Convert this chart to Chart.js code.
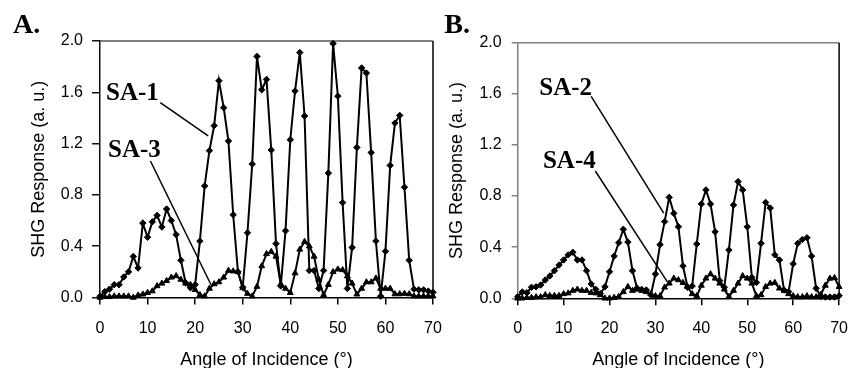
<!DOCTYPE html>
<html><head><meta charset="utf-8">
<script src="https://cdn.jsdelivr.net/npm/chart.js@4.4.0/dist/chart.umd.min.js"></script>
<style>
html,body{margin:0;padding:0;background:#fff;}
#wrap{position:relative;width:862px;height:368px;background:#fff;}
canvas{position:absolute;left:0;top:0;}
</style></head><body>
<div id="wrap"><canvas id="cA" width="862" height="368"></canvas><canvas id="cB" width="862" height="368"></canvas></div>
<script>
// ---- data (angle of incidence, degrees) ----
const angles = [0,1,2,3,4,5,6,7,8,9,10,11,12,13,14,15,16,17,18,19,20,21,22,23,24,25,26,27,28,29,30,31,32,33,34,35,36,37,38,39,40,41,42,43,44,45,46,47,48,49,50,51,52,53,54,55,56,57,58,59,60,61,62,63,64,65,66,67,68,69,70];
// Panel A
const sa1 = [0.01,0.045,0.065,0.10,0.10,0.16,0.20,0.32,0.23,0.58,0.47,0.59,0.64,0.55,0.69,0.60,0.49,0.29,0.115,0.076,0.10,0.44,0.87,1.145,1.34,1.69,1.48,1.22,0.645,0.20,0.08,0.505,1.04,1.88,1.62,1.70,1.15,0.42,0.09,0.52,1.23,1.61,1.91,1.415,0.21,0.21,0.07,0.21,0.97,1.98,1.57,0.74,0.07,0.39,1.17,1.79,1.75,1.13,0.44,0.01,0.36,1.03,1.36,1.42,0.86,0.29,0.065,0.06,0.06,0.05,0.04];
const sa3 = [0.0,0.005,0.005,0.01,0.01,0.01,0.01,0.0,0.017,0.025,0.037,0.05,0.09,0.11,0.13,0.157,0.168,0.14,0.11,0.10,0.06,0.02,0.01,0.07,0.105,0.12,0.157,0.21,0.205,0.20,0.075,0.03,0.01,0.085,0.245,0.34,0.357,0.32,0.105,0.07,0.037,0.19,0.375,0.435,0.40,0.32,0.14,0.02,0.10,0.20,0.22,0.215,0.167,0.11,0.025,0.07,0.12,0.12,0.15,0.07,0.07,0.07,0.027,0.027,0.03,0.027,0.01,0.01,0.01,0.01,0.01];
// Panel B
const sa2 = [0.013,0.05,0.044,0.086,0.09,0.104,0.143,0.175,0.216,0.26,0.30,0.34,0.36,0.30,0.30,0.216,0.112,0.07,0.036,0.09,0.208,0.33,0.435,0.54,0.44,0.215,0.08,0.07,0.065,0.026,0.19,0.42,0.60,0.79,0.665,0.56,0.253,0.086,0.096,0.425,0.738,0.848,0.738,0.52,0.138,0.086,0.378,0.73,0.913,0.848,0.56,0.163,0.124,0.43,0.75,0.706,0.34,0.30,0.065,0.052,0.27,0.43,0.46,0.474,0.33,0.078,0.013,0.01,0.01,0.01,0.02];
const sa4 = [0.0,0.0,0.005,0.005,0.01,0.01,0.026,0.02,0.02,0.02,0.034,0.04,0.06,0.07,0.06,0.06,0.044,0.04,0.026,0.0,0.0,0.005,0.013,0.05,0.09,0.06,0.07,0.06,0.05,0.034,0.018,0.018,0.086,0.117,0.156,0.143,0.122,0.09,0.034,0.018,0.10,0.156,0.19,0.156,0.117,0.07,0.013,0.06,0.117,0.175,0.156,0.117,0.018,0.026,0.09,0.117,0.122,0.078,0.06,0.034,0.018,0.01,0.01,0.018,0.01,0.01,0.03,0.10,0.155,0.16,0.09];
const xTickValues = [0,10,20,30,40,50,60,70];
const yTickValues = [0.0,0.4,0.8,1.2,1.6,2.0];
const xTitle = 'Angle of Incidence (\u00B0)';
const yTitle = 'SHG Response (a. u.)';

// ---- annotation layout (data units) ----
const panels = [
  {canvas:'cA', letter:'A.', letterAt:[-18.3,2.062],
   area:{left:100,right:433,top:41,bottom:297.5}, padL:0, yTitlePad:28.2, tickLenY:8, tickPadY:9,
   leftColor:'#111', topColor:'#555',
   series:[{name:'SA-1', data:sa1, style:'rectRot', r:3.2},{name:'SA-3', data:sa3, style:'triangle', r:3.4}],
   notes:[{text:'SA-1', at:[1.26,1.54], from:[12.67,1.52], to:[22.74,1.26]},
          {text:'SA-3', at:[1.7,1.095], from:[10.6,1.064], to:[23.36,0.0975]}]},
  {canvas:'cB', letter:'B.', letterAt:[-16.0,2.076],
   area:{left:517.7,right:850.7,top:42.7,bottom:298.3}, padL:430, yTitlePad:16.2, tickLenY:6, tickPadY:10,
   leftColor:'#808080', topColor:'#808080',
   series:[{name:'SA-2', data:sa2, style:'rectRot', r:3.2},{name:'SA-4', data:sa4, style:'triangle', r:3.4}],
   notes:[{text:'SA-2', at:[4.7,1.59], from:[16.0,1.58], to:[31.8,0.667]},
          {text:'SA-4', at:[5.5,1.02], from:[16.9,0.996], to:[32.6,0.128]}]}
];

const W = 862, H = 368;
const sans = "'Liberation Sans', Arial, sans-serif";
const serif = "'Liberation Serif', 'Times New Roman', serif";

const framePlugin = {
  id:'frame',
  beforeDatasetsDraw(chart, args, o){
    const {ctx, chartArea:a} = chart;
    ctx.save();
    ctx.lineWidth = 1.5;
    ctx.strokeStyle = o.topColor;
    ctx.beginPath(); ctx.moveTo(a.left, a.top); ctx.lineTo(a.right, a.top); ctx.stroke();
    ctx.strokeStyle = '#000';
    ctx.beginPath(); ctx.moveTo(a.right, a.top); ctx.lineTo(a.right, a.bottom); ctx.stroke();
    ctx.restore();
  }
};
const notePlugin = {
  id:'notes',
  afterDatasetsDraw(chart, args, o){
    const {ctx} = chart, xs = chart.scales.x, ys = chart.scales.y;
    const px = v => xs.getPixelForValue(v), py = v => ys.getPixelForValue(v);
    ctx.save();
    ctx.fillStyle = '#000'; ctx.strokeStyle = '#000';
    ctx.textBaseline = 'alphabetic'; ctx.textAlign = 'left';
    ctx.font = 'bold 28px ' + serif;
    ctx.fillText(o.letter, px(o.letterAt[0]), py(o.letterAt[1]));
    ctx.font = 'bold 25px ' + serif;
    ctx.lineWidth = 1.5;
    o.notes.forEach(n => {
      ctx.fillText(n.text, px(n.at[0]), py(n.at[1]));
      ctx.beginPath(); ctx.moveTo(px(n.from[0]), py(n.from[1])); ctx.lineTo(px(n.to[0]), py(n.to[1])); ctx.stroke();
    });
    ctx.restore();
  }
};

panels.forEach(p => {
  new Chart(document.getElementById(p.canvas), {
    type:'line',
    data:{
      labels: angles,
      datasets: p.series.map(s => ({
        label: s.name,
        data: angles.map((a,i) => ({x:a, y:s.data[i]})),
        borderColor:'#000', borderWidth:2, tension:0,
        pointStyle:s.style, pointRadius:s.r, pointBackgroundColor:'#000', pointBorderColor:'#000', pointBorderWidth:1,
        clip:8, fill:false
      }))
    },
    options:{
      responsive:false, animation:false, devicePixelRatio:1,
      layout:{padding:{left:p.padL, right:W - p.area.right, top:p.area.top, bottom:0}},
      plugins:{legend:{display:false}, tooltip:{enabled:false},
        frame:{topColor:p.topColor},
        notes:{letter:p.letter, letterAt:p.letterAt, notes:p.notes}},
      scales:{
        x:{type:'linear', min:0, max:70,
          afterFit(s){ s.height = H - p.area.bottom; },
          afterBuildTicks(s){ s.ticks = xTickValues.map(v => ({value:v})); },
          ticks:{font:{size:16, family:sans}, color:'#000', padding:14, maxRotation:0, autoSkip:false},
          grid:{drawOnChartArea:false, drawTicks:true, tickLength:7, color:'#000', lineWidth:1.5},
          border:{display:true, color:'#000', width:1.5},
          title:{display:true, text:xTitle, color:'#000', font:{size:18, family:sans}, padding:{top:0,bottom:-3}}
        },
        y:{type:'linear', min:0, max:2,
          afterFit(s){ s.width = p.area.left - p.padL; },
          afterBuildTicks(s){ s.ticks = yTickValues.map(v => ({value:v})); },
          ticks:{font:{size:16, family:sans}, color:'#000', padding:p.tickPadY, callback:v => Number(v).toFixed(1)},
          grid:{drawOnChartArea:false, drawTicks:true, tickLength:p.tickLenY, color:p.leftColor, lineWidth:1.5},
          border:{display:true, color:p.leftColor, width:1.5},
          title:{display:true, text:yTitle, color:'#000', font:{size:18, family:sans}, padding:{top:p.yTitlePad,bottom:0}}
        }
      }
    },
    plugins:[framePlugin, notePlugin]
  });
});
</script>
</body></html>
